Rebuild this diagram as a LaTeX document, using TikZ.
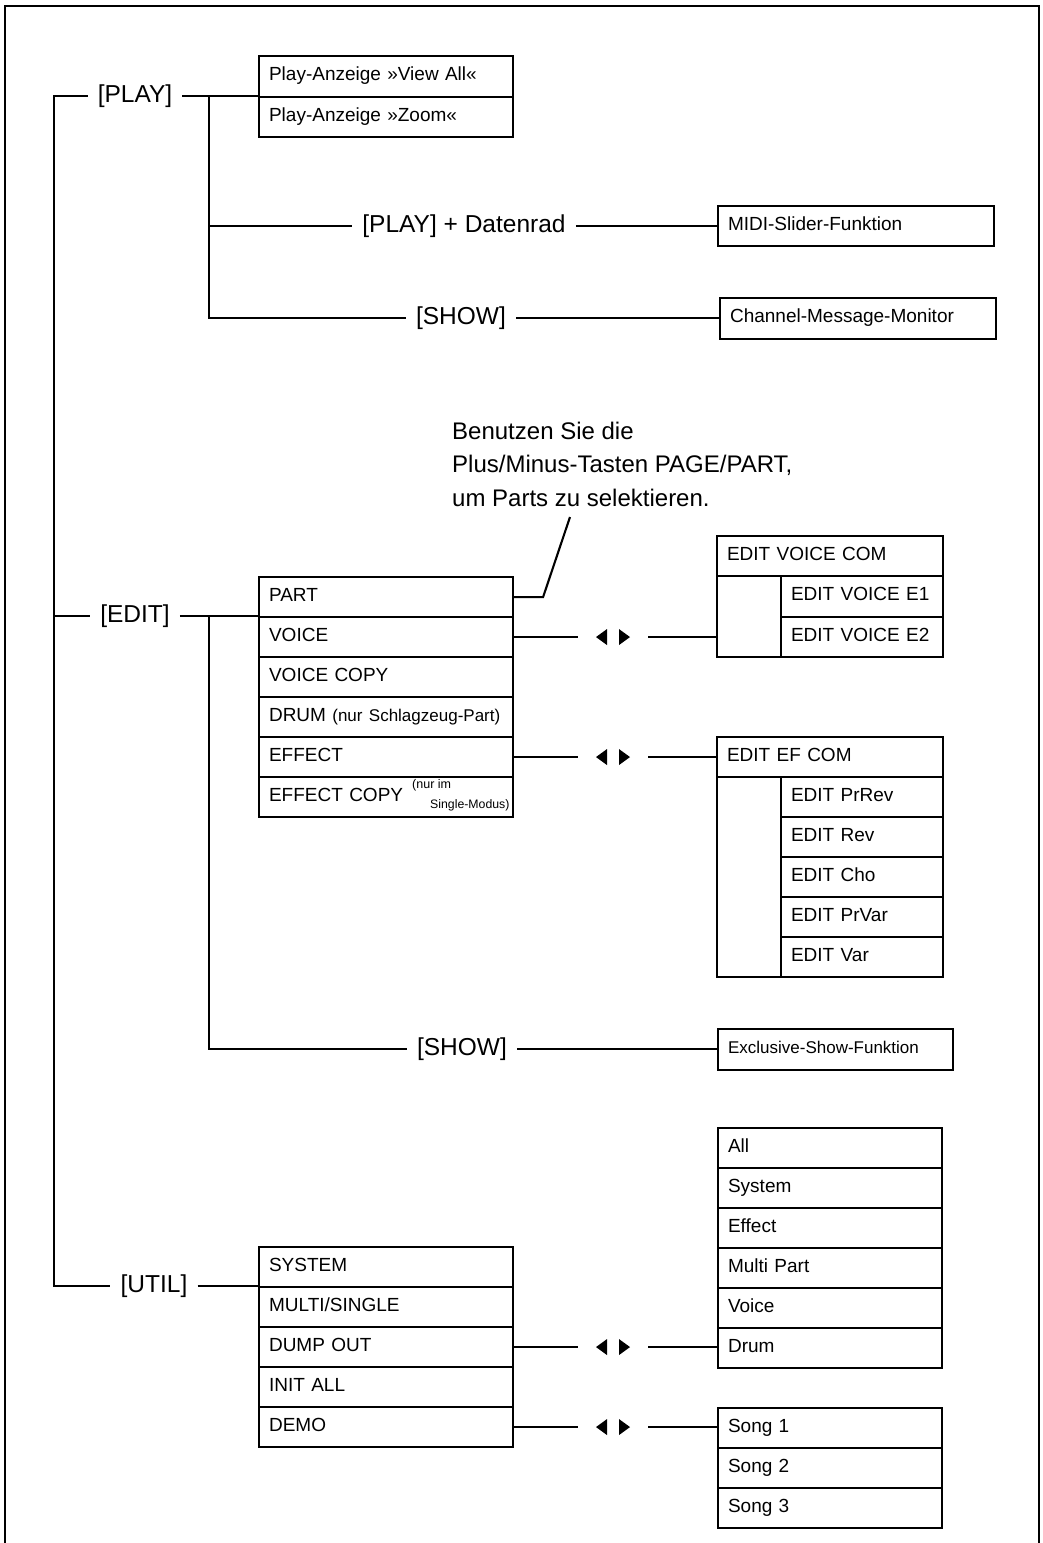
\documentclass[tikz,border=0pt]{standalone}
\usepackage{fontspec}
\setmainfont{Liberation Sans}
\begin{document}
\begin{tikzpicture}[x=1pt,y=-1pt,
  ln/.style={line width=2.1pt},
  row/.style={draw, line width=2.1pt, rectangle, anchor=north west,
    inner xsep=10pt, inner ysep=0pt, minimum height=40pt, text width=#1,
    font=\fontsize{19}{22}\selectfont, align=left, execute at begin node=\strut},
  row/.default=234pt,
  grp/.style={draw, line width=2.1pt, rectangle, anchor=north west, inner sep=0pt},
  lbl/.style={inner xsep=10pt, inner ysep=2pt, font=\fontsize{24.5}{28}\selectfont},
  lr/.pic={\fill (-17,0) -- (-6,-8) -- (-6,8) -- cycle;
           \fill (17,0) -- (6,-8) -- (6,8) -- cycle;}
]
\useasboundingbox (0,0) rectangle (1043,1543);
\fill[white] (0,0) rectangle (1043,1543);
% frame
\draw[line width=2.4pt] (5,1550) -- (5,6) -- (1039,6) -- (1039,1550);

% ---------------- PLAY ----------------
\node[lbl] (play) at (135,96) {[PLAY]};
\node[row, minimum height=41pt] (pva) at (258,55) {Play-Anzeige »View All«};
\node[row] (pzo) at (258,96) {Play-Anzeige »Zoom«};
\coordinate (trunkU) at (54,1286);
\coordinate (trunkE) at (54,616);
\coordinate (p2top) at (209,96);

\node[lbl] (dat) at (464,226) {[PLAY] + Datenrad};
\node[row=256pt] (midi) at (717,205) {MIDI-Slider-Funktion};
\node[lbl] (show1) at (461,318) {[SHOW]};
\node[row=256pt, minimum height=41pt] (cmm) at (719,297) {Channel-Message-Monitor};

\draw[ln] (play.east) -- (pzo.north west);
\draw[ln] (p2top) |- (show1.west);
\draw[ln] (p2top |- dat.west) -- (dat.west);
\draw[ln] (dat.east) -- (dat.east -| midi.west);
\draw[ln] (show1.east) -- (show1.east -| cmm.west);

% ---------------- EDIT ----------------
\node[lbl] (edit) at (135,616) {[EDIT]};
\coordinate (e2top) at (209,616);
\node[row] (part) at (258,576) {PART};
\node[row] (voice) at (258,616) {VOICE};
\node[row] (vcopy) at (258,656) {VOICE COPY};
\node[row] (drum) at (258,696) {DRUM {\fontsize{17}{20}\selectfont(nur Schlagzeug-Part)}};
\node[row] (effect) at (258,736) {EFFECT};
\node[row] (ecopy) at (258,776) {EFFECT COPY};
\node[anchor=west, inner sep=0pt, font=\fontsize{12.5}{14}\selectfont] (enc1) at (412,785) {(nur im};
\node[anchor=west, inner sep=0pt, font=\fontsize{12.3}{14}\selectfont] (enc2) at (430,805) {Single-Modus)};

\draw[ln] (trunkE) -- (edit.west);
\draw[ln] (edit.east) -- (voice.north west);

% note
\node[anchor=north west, inner sep=0pt, align=left,
  font=\fontsize{24}{33.5}\selectfont] (note) at (452,421.5)
  {Benutzen Sie die\\Plus/Minus-Tasten PAGE/PART,\\um Parts zu selektieren.};
\coordinate (ptr) at (570,517);
\draw[ln] (part.east) -- ++(29,0) -- (ptr);

% voice edit group
\node[grp, minimum width=226pt, minimum height=121pt] (evg) at (716,535) {};
\node[row=206pt] (evc) at (716,535) {EDIT VOICE COM};
\node[row=142pt, minimum height=41pt] (eve1) at (780,575) {EDIT VOICE E1};
\node[row=142pt] (eve2) at (780,616) {EDIT VOICE E2};
\coordinate (va) at (voice.east -| 613,0);
\draw[ln] (voice.east) -- ([xshift=-35pt]va);
\draw[ln] ([xshift=35pt]va) -- (va -| evg.west);
\pic at (va) {lr};

% effect edit group
\node[grp, minimum width=226pt, minimum height=240pt] (efg) at (716,736) {};
\node[row=206pt] (efc) at (716,736) {EDIT EF COM};
\node[row=142pt] (ef1) at (780,776) {EDIT PrRev};
\node[row=142pt] (ef2) at (780,816) {EDIT Rev};
\node[row=142pt] (ef3) at (780,856) {EDIT Cho};
\node[row=142pt] (ef4) at (780,896) {EDIT PrVar};
\node[row=142pt] (ef5) at (780,936) {EDIT Var};
\coordinate (ea) at (effect.east -| 613,0);
\draw[ln] (effect.east) -- ([xshift=-35pt]ea);
\draw[ln] ([xshift=35pt]ea) -- (ea -| efg.west);
\pic at (ea) {lr};

% show 2
\node[lbl] (show2) at (462,1049) {[SHOW]};
\node[row=215pt, minimum height=41pt, font=\fontsize{17}{20}\selectfont] (exs) at (717,1028) {Exclusive-Show-Funktion};
\draw[ln] (e2top) |- (show2.west);
\draw[ln] (show2.east) -- (show2.east -| exs.west);

% ---------------- UTIL ----------------
\node[lbl] (util) at (154,1286) {[UTIL]};
\node[row] (usys) at (258,1246) {SYSTEM};
\node[row] (umulti) at (258,1286) {MULTI/SINGLE};
\node[row] (udump) at (258,1326) {DUMP OUT};
\node[row] (uinit) at (258,1366) {INIT ALL};
\node[row] (udemo) at (258,1406) {DEMO};
\draw[ln] (util.east) -- (umulti.north west);
\draw[ln] (play.west) -| (trunkU) -- (util.west);

\node[row=204pt] (dall) at (717,1127) {All};
\node[row=204pt] (dsys) at (717,1167) {System};
\node[row=204pt] (deff) at (717,1207) {Effect};
\node[row=204pt] (dmp) at (717,1247) {Multi Part};
\node[row=204pt] (dvoi) at (717,1287) {Voice};
\node[row=204pt] (ddrum) at (717,1327) {Drum};
\coordinate (da) at (udump.east -| 613,0);
\draw[ln] (udump.east) -- ([xshift=-35pt]da);
\draw[ln] ([xshift=35pt]da) -- (da -| ddrum.west);
\pic at (da) {lr};

\node[row=204pt] (song1) at (717,1407) {Song 1};
\node[row=204pt] (song2) at (717,1447) {Song 2};
\node[row=204pt] (song3) at (717,1487) {Song 3};
\coordinate (sa) at (udemo.east -| 613,0);
\draw[ln] (udemo.east) -- ([xshift=-35pt]sa);
\draw[ln] ([xshift=35pt]sa) -- (sa -| song1.west);
\pic at (sa) {lr};
\end{tikzpicture}
\end{document}
